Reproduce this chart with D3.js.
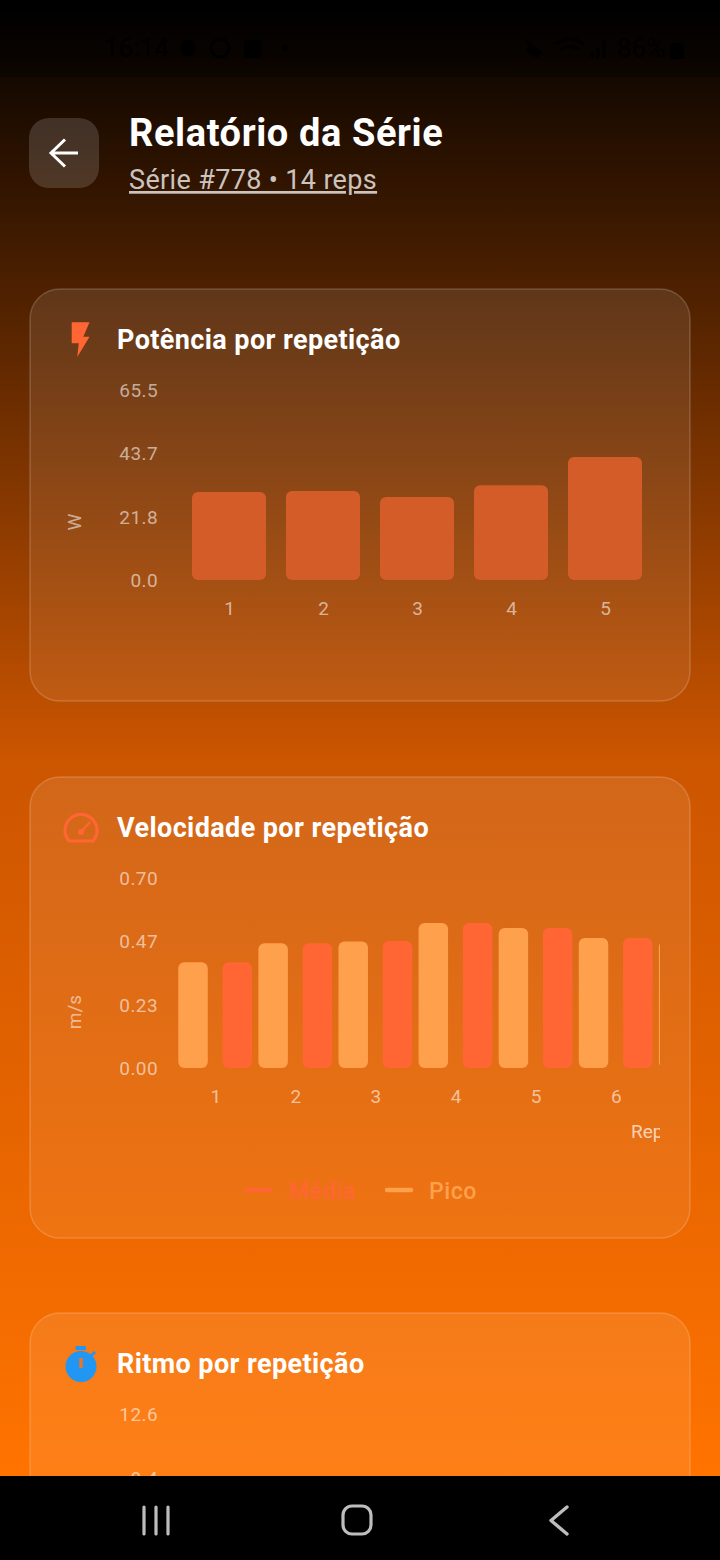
<!DOCTYPE html>
<html><head><meta charset="utf-8">
<script src="https://cdn.jsdelivr.net/npm/d3@7/dist/d3.min.js"></script>
<style>html,body{margin:0;padding:0;background:#000}svg{display:block}text{font-family:Roboto,sans-serif}</style>
</head><body><svg id="c" width="720" height="1560" viewBox="0 0 720 1560"></svg>
<script>
const powerReps=[1,2,3,4,5];
const powerValues=[30.3,30.7,28.6,32.7,42.4];
const powerTicks=[0,21.83,43.67,65.5];
const speedReps=[1,2,3,4,5,6,7];
const speedPico=[0.39,0.46,0.466,0.534,0.516,0.479,0.468];
const speedMedia=[0.39,0.46,0.468,0.534,0.516,0.479,0.468];
const speedTicks=[0,0.2333,0.4667,0.70];
const speedSeries=["Pico","Média"];
const paceTicks=[12.6,8.4];

const svg=d3.select("#c");
const defs=svg.append("defs");
const bgGrad=defs.append("linearGradient").attr("id","bg").attr("x1",0).attr("x2",0).attr("y1",0).attr("y2",1);
[[0,"#000000"],[0.515,"#cc5500"],[1,"#ff7300"]].forEach(s=>bgGrad.append("stop").attr("offset",s[0]).attr("stop-color",s[1]));
const cardGrad=defs.append("linearGradient").attr("id","card").attr("x1",0).attr("x2",0).attr("y1",0).attr("y2",1);
cardGrad.append("stop").attr("offset",0).attr("stop-color","#fff").attr("stop-opacity",0.10);
cardGrad.append("stop").attr("offset",1).attr("stop-color","#fff").attr("stop-opacity",0.07);
const clip2=defs.append("clipPath").attr("id","clip2");
clip2.append("rect").attr("x",0).attr("y",860).attr("width",660).attr("height",300);

svg.append("rect").attr("width",720).attr("height",1476).attr("fill","url(#bg)");
svg.append("rect").attr("width",720).attr("height",77).attr("fill","#000").attr("fill-opacity",0.35);

// status bar
const dark="#000";
const txt=(x,y,s,size,fill,weight,anchor,ls)=>svg.append("text").attr("x",x).attr("y",y).text(s).attr("font-size",size).attr("fill",fill).attr("font-weight",weight||400).attr("text-anchor",anchor||"start").attr("letter-spacing",ls||0);
txt(104,57,"16:14",26,dark);
svg.append("circle").attr("cx",188).attr("cy",48).attr("r",8).attr("fill",dark);
svg.append("circle").attr("cx",220).attr("cy",48).attr("r",9).attr("fill","none").attr("stroke",dark).attr("stroke-width",3);
svg.append("rect").attr("x",244).attr("y",40).attr("width",17).attr("height",18).attr("rx",3).attr("fill",dark);
svg.append("circle").attr("cx",285).attr("cy",48).attr("r",3).attr("fill",dark);
svg.append("path").attr("d","M526 40l12 18M530 44l-3 6 8 6 6-3z").attr("fill",dark).attr("stroke",dark).attr("stroke-width",2);
svg.append("path").attr("d","M556 44q14-10 28 0M561 50q9-7 18 0").attr("fill","none").attr("stroke",dark).attr("stroke-width",3);
svg.append("path").attr("d","M592 58v-6M598 58v-10M604 58v-18").attr("stroke",dark).attr("stroke-width",3);
txt(617,57,"86%",26,dark);
svg.append("rect").attr("x",670).attr("y",43).attr("width",14).attr("height",16).attr("rx",2).attr("fill",dark);

// header
svg.append("rect").attr("x",29).attr("y",118).attr("width",70).attr("height",70).attr("rx",20).attr("fill","#fff").attr("fill-opacity",0.15);
svg.append("path").attr("d","M78 153H51M65 139.5L51 153L65 166.5").attr("fill","none").attr("stroke","#fff").attr("stroke-width",3);
txt(129,146,"Relatório da Série",38,"#fff",700,"start",0.6);
txt(129,189,"Série #778 • 14 reps",27,"#fff",400,"start",0.35).attr("fill-opacity",0.75).attr("text-decoration","underline");

// cards
function drawCard(y,h,title){
  svg.append("rect").attr("x",30).attr("y",y).attr("width",660).attr("height",h).attr("rx",30).attr("fill","url(#card)").attr("stroke","#fff").attr("stroke-opacity",0.18).attr("stroke-width",1.5);
  txt(117,y+60,title,27,"#fff",700,"start",0.4);
}
drawCard(289,412,"Potência por repetição");
drawCard(777,461,"Velocidade por repetição");
drawCard(1313,400,"Ritmo por repetição");

function styleAxis(g){
  g.select(".domain").remove();
  g.selectAll(".tick line").remove();
  g.selectAll("text").attr("font-size",19).attr("fill","#fff").attr("fill-opacity",0.58).attr("letter-spacing",0.4).style("font-family","Roboto,sans-serif");
}
function yTitle(x,y,s){
  svg.append("text").attr("transform",`translate(${x},${y}) rotate(-90)`).attr("text-anchor","middle").text(s).attr("font-size",19).attr("fill","#fff").attr("fill-opacity",0.55);
}

// Chart 1: power
const y1=d3.scaleLinear().domain([0,65.5]).range([580,390]);
const x1=d3.scaleBand().domain(powerReps).range([182,652]).paddingInner(20/94).paddingOuter(10/94);
svg.append("g").attr("transform","translate(158,0.4)").call(d3.axisLeft(y1).tickValues(powerTicks).tickFormat(d3.format(".1f")).tickSize(0).tickPadding(0)).call(styleAxis);
svg.append("g").attr("transform","translate(0.7,601)").call(d3.axisBottom(x1).tickSize(0).tickPadding(0)).call(styleAxis);
yTitle(81,522,"W");
svg.append("g").selectAll("rect").data(powerReps).join("rect")
  .attr("x",d=>x1(d)).attr("width",x1.bandwidth())
  .attr("y",(d,i)=>y1(powerValues[i])).attr("height",(d,i)=>y1(0)-y1(powerValues[i]))
  .attr("rx",6).attr("fill","#d35c28");
svg.append("path").attr("d","M71.7 322.3H89.5L83.3 336.7H89.5L77.3 357L78.7 343.3H71.7Z").attr("fill","#ff6633");

// Chart 2: speed
const y2=d3.scaleLinear().domain([0,0.70]).range([1068,878]);
const x2=d3.scaleBand().domain(speedReps).range([175.1,175.1+80.1*7]);
const xs=d3.scaleBand().domain(speedSeries).range([0,x2.bandwidth()]).paddingInner(0.334).paddingOuter(0.072);
svg.append("g").attr("transform","translate(158,0.5)").call(d3.axisLeft(y2).tickValues(speedTicks).tickFormat(d3.format(".2f")).tickSize(0).tickPadding(0)).call(styleAxis);
const clipG=svg.append("g").attr("clip-path","url(#clip2)");
clipG.append("g").attr("transform","translate(0.8,1089)").call(d3.axisBottom(x2).tickSize(0).tickPadding(0)).call(styleAxis);
yTitle(81,1012,"m/s");
const colors={"Pico":"#ffa04d","Média":"#ff6633"};
const rows=speedReps.flatMap((r,i)=>[{r,s:"Pico",v:speedPico[i]},{r,s:"Média",v:speedMedia[i]}]);
clipG.append("g").selectAll("rect").data(rows).join("rect")
  .attr("x",d=>x2(d.r)+xs(d.s)).attr("width",xs.bandwidth())
  .attr("y",d=>y2(d.v)).attr("height",d=>y2(0)-y2(d.v))
  .attr("rx",6).attr("fill",d=>colors[d.s]);
clipG.append("text").attr("x",631).attr("y",1138).text("Repetição").attr("font-size",19).attr("fill","#fff").attr("fill-opacity",0.7);
// gauge icon
svg.append("path").attr("d","M69 841A16 16 0 1 1 93 841Z").attr("fill","none").attr("stroke","#ff6633").attr("stroke-width",3.2).attr("stroke-linejoin","round");
svg.append("line").attr("x1",81).attr("y1",832).attr("x2",90).attr("y2",822).attr("stroke","#ff6633").attr("stroke-width",2.6);
svg.append("circle").attr("cx",81).attr("cy",832).attr("r",3).attr("fill","#ff6633");
// legend
[[247,270,289,"Média"],[387,411,429,"Pico"]].forEach(l=>{
  svg.append("line").attr("x1",l[0]).attr("x2",l[1]).attr("y1",1190).attr("y2",1190).attr("stroke",colors[l[3]]).attr("stroke-width",4.5).attr("stroke-linecap","round");
  txt(l[2],1199,l[3],23,colors[l[3]],500,"start",0.6);
});

// Chart 3: pace
const y3=d3.scaleLinear().domain([8.4,12.6]).range([1478,1414]);
svg.append("g").attr("transform","translate(158,0)").call(d3.axisLeft(y3).tickValues(paceTicks).tickFormat(d3.format(".1f")).tickSize(0).tickPadding(0)).call(styleAxis);
svg.append("circle").attr("cx",81).attr("cy",1366.5).attr("r",15.5).attr("fill","#2196f3");
svg.append("rect").attr("x",75.5).attr("y",1346).attr("width",10.5).attr("height",4).attr("rx",1).attr("fill","#2196f3");
svg.append("line").attr("x1",91).attr("y1",1356).attr("x2",95).attr("y2",1352).attr("stroke","#2196f3").attr("stroke-width",3);
svg.append("rect").attr("x",79.2).attr("y",1358).attr("width",3.6).attr("height",10).attr("fill","#e8762a");

// nav bar
svg.append("rect").attr("y",1476).attr("width",720).attr("height",84).attr("fill","#000");
svg.append("path").attr("d","M144 1507V1534M156 1507V1534M168 1507V1534").attr("stroke","#bdbdbd").attr("stroke-width",3.2).attr("stroke-linecap","round");
svg.append("rect").attr("x",343).attr("y",1506).attr("width",28).attr("height",28).attr("rx",9).attr("fill","none").attr("stroke","#bdbdbd").attr("stroke-width",3.2);
svg.append("path").attr("d","M567 1507L551 1520.5L567 1534").attr("fill","none").attr("stroke","#bdbdbd").attr("stroke-width",3.4).attr("stroke-linecap","round").attr("stroke-linejoin","round");
</script></body></html>
